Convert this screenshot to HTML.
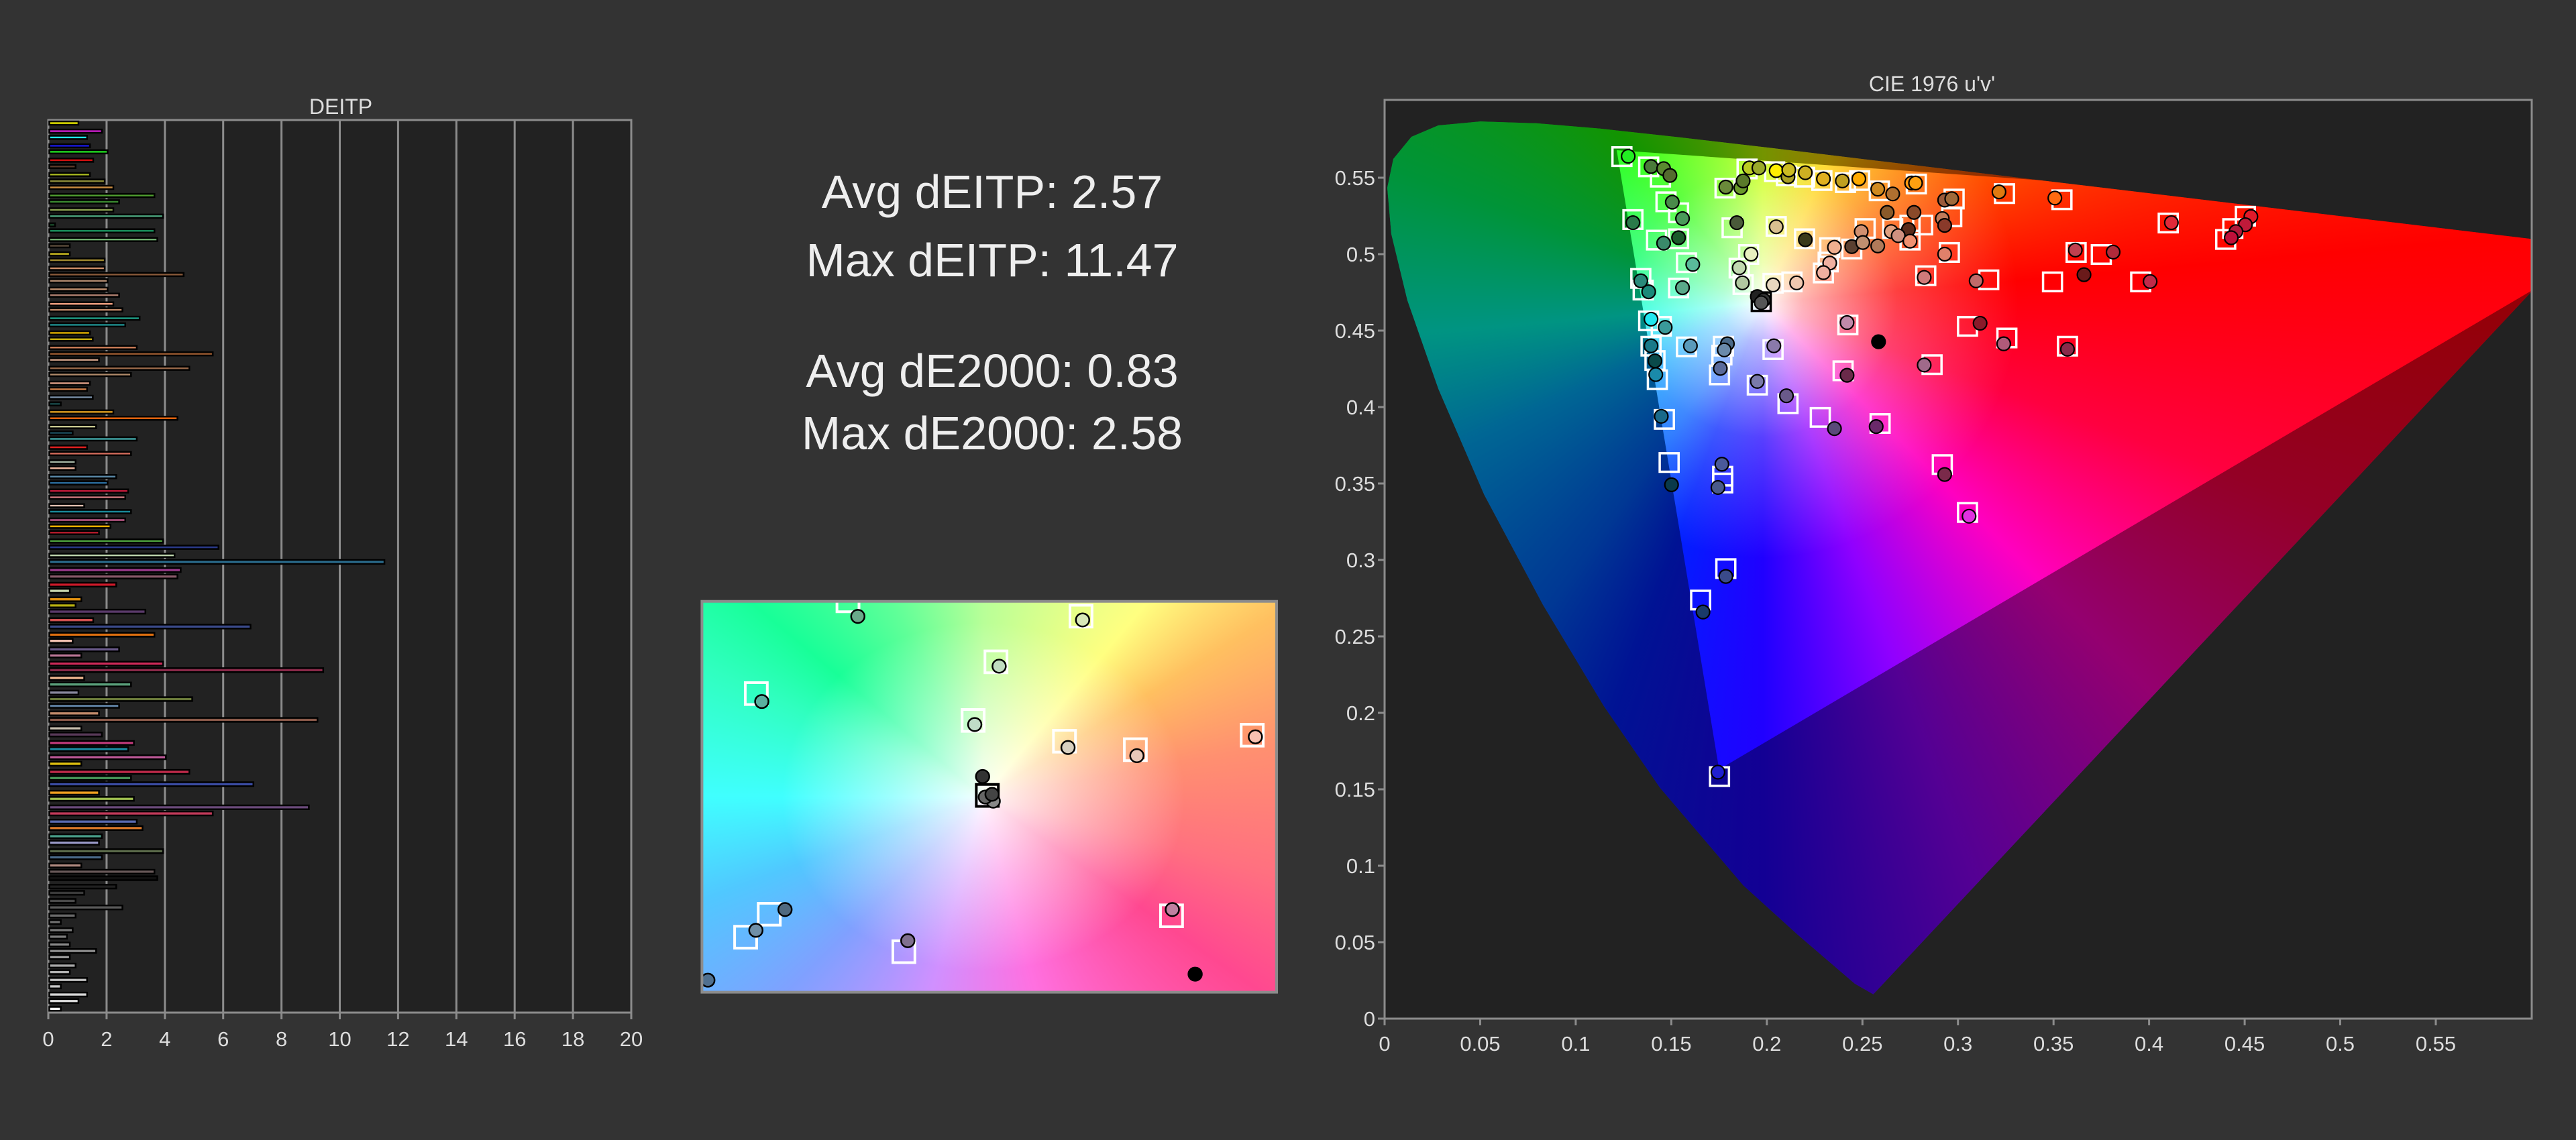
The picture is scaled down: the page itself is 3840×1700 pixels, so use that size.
<!DOCTYPE html>
<html><head><meta charset="utf-8"><style>
html,body{margin:0;padding:0;background:#333;}
body{width:3840px;height:1700px;position:relative;overflow:hidden;font-family:"Liberation Sans",sans-serif;color:#ddd;}
.abs{position:absolute;}
.txt{position:absolute;left:1179px;width:600px;text-align:center;font-size:70px;color:#eee;line-height:1;}
#cie{position:absolute;left:2064px;top:149px;width:1710px;height:1370px;background:#222;overflow:hidden;}
#locus{position:absolute;left:0;top:0;width:1800px;height:1370px;
clip-path:polygon(728.5px 1333.7px,701px 1318px,615.7px 1244.8px,534.8px 1171.4px,410.5px 1025.7px,326.8px 903.9px,235.9px 752.6px,148.4px 588.6px,80.3px 431.3px,33.9px 298.6px,10px 200px,4px 131px,13px 88px,40px 55px,80px 38px,142.7px 32.1px,225.6px 34.8px,321.1px 42.8px,436.2px 55.4px,577.2px 71.8px,747.3px 92.3px,1149.6px 140.4px,1482px 180.1px,1776px 215.2px);
background:linear-gradient(rgba(0,0,0,0.42),rgba(0,0,0,0.42)),conic-gradient(from 0deg at 564px 303px,#c8ff00 0deg,#ffd000 25deg,#ff5000 60deg,#ff0000 85deg,#ff0040 110deg,#ff00c0 135deg,#9000ff 160deg,#2000ff 180deg,#0020ff 200deg,#0060ff 215deg,#00b0ff 245deg,#00ffe0 265deg,#00ff60 290deg,#20ff00 320deg,#80ff00 345deg,#c8ff00 360deg);}
#tri{position:absolute;left:0;top:0;width:1900px;height:1370px;
clip-path:polygon(346px 75px,1880px 184px,498.6px 998.4px);
background:radial-gradient(circle at 564px 303px,rgba(255,255,255,1) 0px,rgba(255,255,255,0.7) 60px,rgba(255,255,255,0.25) 200px,rgba(255,255,255,0) 380px),conic-gradient(from 0deg at 564px 303px,#c8ff00 0deg,#ffd000 25deg,#ff5000 60deg,#ff0000 85deg,#ff0040 110deg,#ff00c0 135deg,#9000ff 160deg,#2000ff 180deg,#0020ff 200deg,#0060ff 215deg,#00b0ff 245deg,#00ffe0 265deg,#00ff60 290deg,#20ff00 320deg,#80ff00 345deg,#c8ff00 360deg);}
#grad{position:absolute;left:1046px;top:897px;width:857px;height:583px;
background:radial-gradient(ellipse 300px 260px at 49% 50%,rgba(255,255,255,0.95) 0,rgba(255,255,255,0.5) 45%,rgba(255,255,255,0) 100%),conic-gradient(from 0deg at 49% 50%,#b8ff98 0deg,#ffff80 40deg,#ffc060 58deg,#ff9070 80deg,#ff7080 105deg,#ff4890 125deg,#ff70e0 165deg,#d090ff 195deg,#80a0ff 225deg,#50c8ff 250deg,#40ffff 270deg,#30ffc0 295deg,#18ff98 310deg,#60ff98 335deg,#b8ff98 360deg);}
</style></head><body>

<!-- left bar chart frame -->
<svg class="abs" style="left:0;top:0" width="3840" height="1700">
<rect x="72" y="179" width="869" height="1331" fill="#222"/>
<g stroke="#8c8c8c" stroke-width="3">
<line x1="158.9" y1="179" x2="158.9" y2="1510"/><line x1="245.8" y1="179" x2="245.8" y2="1510"/>
<line x1="332.7" y1="179" x2="332.7" y2="1510"/><line x1="419.6" y1="179" x2="419.6" y2="1510"/>
<line x1="506.5" y1="179" x2="506.5" y2="1510"/><line x1="593.4" y1="179" x2="593.4" y2="1510"/>
<line x1="680.3" y1="179" x2="680.3" y2="1510"/><line x1="767.2" y1="179" x2="767.2" y2="1510"/>
<line x1="854.1" y1="179" x2="854.1" y2="1510"/>
</g>
<g stroke="#8c8c8c" stroke-width="3">
<line x1="72" y1="1510" x2="72" y2="1520"/><line x1="158.9" y1="1510" x2="158.9" y2="1520"/><line x1="245.8" y1="1510" x2="245.8" y2="1520"/><line x1="332.7" y1="1510" x2="332.7" y2="1520"/><line x1="419.6" y1="1510" x2="419.6" y2="1520"/><line x1="506.5" y1="1510" x2="506.5" y2="1520"/><line x1="593.4" y1="1510" x2="593.4" y2="1520"/><line x1="680.3" y1="1510" x2="680.3" y2="1520"/><line x1="767.2" y1="1510" x2="767.2" y2="1520"/><line x1="854.1" y1="1510" x2="854.1" y2="1520"/><line x1="941" y1="1510" x2="941" y2="1520"/>
</g>
<rect x="72" y="179" width="869" height="1331" fill="none" stroke="#8c8c8c" stroke-width="3"/>
<text x="508" y="170" font-size="32" fill="#ddd" text-anchor="middle" font-family="Liberation Sans">DEITP</text>
<g font-size="31" fill="#ddd" text-anchor="middle" font-family="Liberation Sans">
<text x="72" y="1560">0</text><text x="158.9" y="1560">2</text><text x="245.8" y="1560">4</text><text x="332.7" y="1560">6</text><text x="419.6" y="1560">8</text><text x="506.5" y="1560">10</text><text x="593.4" y="1560">12</text><text x="680.3" y="1560">14</text><text x="767.2" y="1560">16</text><text x="854.1" y="1560">18</text><text x="941" y="1560">20</text>
</g>
</svg>

<!-- bars top part (zoom1 coords) -->
<svg class="abs" style="left:0;top:140px" width="960" height="700" viewBox="0 0 1568 1568" preserveAspectRatio="none">
<g stroke="#000" stroke-width="2.5" vector-effect="non-scaling-stroke">
<rect vector-effect="non-scaling-stroke" x="120" y="92" width="71" height="11" fill="#f0f000"/>
<rect vector-effect="non-scaling-stroke" x="120" y="119" width="128" height="11" fill="#d020d0"/>
<rect vector-effect="non-scaling-stroke" x="120" y="140" width="92" height="11" fill="#20e8e8"/>
<rect vector-effect="non-scaling-stroke" x="120" y="168" width="99" height="11" fill="#1818e0"/>
<rect vector-effect="non-scaling-stroke" x="120" y="188" width="142" height="11" fill="#20d020"/>
<rect vector-effect="non-scaling-stroke" x="120" y="216" width="107" height="11" fill="#d01010"/>
<rect vector-effect="non-scaling-stroke" x="120" y="237" width="64" height="11" fill="#5a3a2a"/>
<rect vector-effect="non-scaling-stroke" x="120" y="264" width="99" height="11" fill="#a8b820"/>
<rect vector-effect="non-scaling-stroke" x="120" y="286" width="135" height="11" fill="#8a8a3a"/>
<rect vector-effect="non-scaling-stroke" x="120" y="307" width="156" height="11" fill="#c88a40"/>
<rect vector-effect="non-scaling-stroke" x="120" y="334" width="256" height="11" fill="#50a030"/>
<rect vector-effect="non-scaling-stroke" x="120" y="355" width="170" height="11" fill="#3a8a30"/>
<rect vector-effect="non-scaling-stroke" x="120" y="382" width="156" height="11" fill="#8aa050"/>
<rect vector-effect="non-scaling-stroke" x="120" y="403" width="277" height="11" fill="#4aa07a"/>
<rect vector-effect="non-scaling-stroke" x="120" y="432" width="14" height="11" fill="#1a4a2a"/>
<rect vector-effect="non-scaling-stroke" x="120" y="452" width="256" height="11" fill="#1a8a5a"/>
<rect vector-effect="non-scaling-stroke" x="120" y="481" width="263" height="11" fill="#70b070"/>
<rect vector-effect="non-scaling-stroke" x="120" y="502" width="50" height="11" fill="#5a4a3a"/>
<rect vector-effect="non-scaling-stroke" x="120" y="529" width="50" height="11" fill="#c8b820"/>
<rect vector-effect="non-scaling-stroke" x="120" y="550" width="135" height="11" fill="#a08a30"/>
<rect vector-effect="non-scaling-stroke" x="120" y="577" width="135" height="11" fill="#d0906a"/>
<rect vector-effect="non-scaling-stroke" x="120" y="598" width="327" height="11" fill="#8a5a3a"/>
<rect vector-effect="non-scaling-stroke" x="120" y="619" width="142" height="11" fill="#b08a70"/>
<rect vector-effect="non-scaling-stroke" x="120" y="647" width="142" height="11" fill="#c09070"/>
<rect vector-effect="non-scaling-stroke" x="120" y="667" width="170" height="11" fill="#b08070"/>
<rect vector-effect="non-scaling-stroke" x="120" y="696" width="156" height="11" fill="#f0a080"/>
<rect vector-effect="non-scaling-stroke" x="120" y="716" width="178" height="11" fill="#c08a6a"/>
<rect vector-effect="non-scaling-stroke" x="120" y="744" width="220" height="11" fill="#20a088"/>
<rect vector-effect="non-scaling-stroke" x="120" y="766" width="185" height="11" fill="#209090"/>
<rect vector-effect="non-scaling-stroke" x="120" y="793" width="99" height="11" fill="#e0b000"/>
<rect vector-effect="non-scaling-stroke" x="120" y="814" width="106" height="11" fill="#c8b010"/>
<rect vector-effect="non-scaling-stroke" x="120" y="842" width="213" height="11" fill="#d0805a"/>
<rect vector-effect="non-scaling-stroke" x="120" y="863" width="398" height="11" fill="#9a5a30"/>
<rect vector-effect="non-scaling-stroke" x="120" y="883" width="121" height="11" fill="#d0a088"/>
<rect vector-effect="non-scaling-stroke" x="120" y="911" width="341" height="11" fill="#9a6a4a"/>
<rect vector-effect="non-scaling-stroke" x="120" y="932" width="199" height="11" fill="#b08a6a"/>
<rect vector-effect="non-scaling-stroke" x="120" y="961" width="99" height="11" fill="#e0a088"/>
<rect vector-effect="non-scaling-stroke" x="120" y="981" width="92" height="11" fill="#d0804a"/>
<rect vector-effect="non-scaling-stroke" x="120" y="1008" width="106" height="11" fill="#7a90a8"/>
<rect vector-effect="non-scaling-stroke" x="120" y="1030" width="28" height="11" fill="#1a4a4a"/>
<rect vector-effect="non-scaling-stroke" x="120" y="1057" width="156" height="11" fill="#e0a020"/>
<rect vector-effect="non-scaling-stroke" x="120" y="1078" width="312" height="11" fill="#f06a10"/>
<rect vector-effect="non-scaling-stroke" x="120" y="1106" width="114" height="11" fill="#c8c890"/>
<rect vector-effect="non-scaling-stroke" x="120" y="1127" width="57" height="11" fill="#1a4a5a"/>
<rect vector-effect="non-scaling-stroke" x="120" y="1147" width="213" height="11" fill="#40a0a0"/>
<rect vector-effect="non-scaling-stroke" x="120" y="1175" width="92" height="11" fill="#e02020"/>
<rect vector-effect="non-scaling-stroke" x="120" y="1196" width="199" height="11" fill="#d06a5a"/>
<rect vector-effect="non-scaling-stroke" x="120" y="1224" width="64" height="11" fill="#a0b0a0"/>
<rect vector-effect="non-scaling-stroke" x="120" y="1245" width="64" height="11" fill="#f0b8a0"/>
<rect vector-effect="non-scaling-stroke" x="120" y="1273" width="163" height="11" fill="#5a8aa8"/>
<rect vector-effect="non-scaling-stroke" x="120" y="1294" width="142" height="11" fill="#2a6a9a"/>
<rect vector-effect="non-scaling-stroke" x="120" y="1321" width="192" height="11" fill="#c01a3a"/>
<rect vector-effect="non-scaling-stroke" x="120" y="1342" width="185" height="11" fill="#d07a80"/>
<rect vector-effect="non-scaling-stroke" x="120" y="1370" width="85" height="11" fill="#e0c0b0"/>
<rect vector-effect="non-scaling-stroke" x="120" y="1390" width="199" height="11" fill="#1a8a9a"/>
<rect vector-effect="non-scaling-stroke" x="120" y="1418" width="185" height="11" fill="#c05a8a"/>
<rect vector-effect="non-scaling-stroke" x="120" y="1439" width="149" height="11" fill="#f0b000"/>
<rect vector-effect="non-scaling-stroke" x="120" y="1460" width="121" height="11" fill="#b01a2a"/>
<rect vector-effect="non-scaling-stroke" x="120" y="1488" width="277" height="11" fill="#4a9a3a"/>
<rect vector-effect="non-scaling-stroke" x="120" y="1509" width="412" height="11" fill="#2a3a8a"/>
<rect vector-effect="non-scaling-stroke" x="120" y="1536" width="305" height="11" fill="#c0d8b0"/>
</g>
</svg>

<!-- bars bottom part (zoom3 coords) -->
<svg class="abs" style="left:0;top:820px" width="960" height="760" viewBox="0 0 1568 1568" preserveAspectRatio="none">
<g stroke="#000" stroke-width="2.5">
<rect vector-effect="non-scaling-stroke" x="120" y="31" width="816" height="12" fill="#2a6a8a"/>
<rect vector-effect="non-scaling-stroke" x="120" y="56" width="320" height="12" fill="#9a3a8a"/>
<rect vector-effect="non-scaling-stroke" x="120" y="76" width="312" height="12" fill="#8a5a6a"/>
<rect vector-effect="non-scaling-stroke" x="120" y="101" width="163" height="12" fill="#d01a2a"/>
<rect vector-effect="non-scaling-stroke" x="120" y="120" width="50" height="12" fill="#c8d8b0"/>
<rect vector-effect="non-scaling-stroke" x="120" y="146" width="78" height="12" fill="#e09010"/>
<rect vector-effect="non-scaling-stroke" x="120" y="165" width="64" height="12" fill="#b8b010"/>
<rect vector-effect="non-scaling-stroke" x="120" y="184" width="234" height="12" fill="#5a3a6a"/>
<rect vector-effect="non-scaling-stroke" x="120" y="210" width="107" height="12" fill="#d05050"/>
<rect vector-effect="non-scaling-stroke" x="120" y="230" width="490" height="12" fill="#3a4a8a"/>
<rect vector-effect="non-scaling-stroke" x="120" y="255" width="256" height="12" fill="#e07010"/>
<rect vector-effect="non-scaling-stroke" x="120" y="274" width="57" height="12" fill="#f0c0b0"/>
<rect vector-effect="non-scaling-stroke" x="120" y="300" width="170" height="12" fill="#6a5a8a"/>
<rect vector-effect="non-scaling-stroke" x="120" y="319" width="78" height="12" fill="#c07a9a"/>
<rect vector-effect="non-scaling-stroke" x="120" y="344" width="277" height="12" fill="#d02a5a"/>
<rect vector-effect="non-scaling-stroke" x="120" y="364" width="667" height="12" fill="#8a2a4a"/>
<rect vector-effect="non-scaling-stroke" x="120" y="388" width="85" height="12" fill="#f0b890"/>
<rect vector-effect="non-scaling-stroke" x="120" y="408" width="199" height="12" fill="#5aa07a"/>
<rect vector-effect="non-scaling-stroke" x="120" y="433" width="71" height="12" fill="#8a8aa0"/>
<rect vector-effect="non-scaling-stroke" x="120" y="453" width="348" height="12" fill="#6a7a3a"/>
<rect vector-effect="non-scaling-stroke" x="120" y="474" width="170" height="12" fill="#5a7a9a"/>
<rect vector-effect="non-scaling-stroke" x="120" y="497" width="121" height="12" fill="#c08a6a"/>
<rect vector-effect="non-scaling-stroke" x="120" y="517" width="653" height="12" fill="#8a5a4a"/>
<rect vector-effect="non-scaling-stroke" x="120" y="543" width="78" height="12" fill="#c8c0b0"/>
<rect vector-effect="non-scaling-stroke" x="120" y="562" width="128" height="12" fill="#5a3a5a"/>
<rect vector-effect="non-scaling-stroke" x="120" y="588" width="206" height="12" fill="#c03a7a"/>
<rect vector-effect="non-scaling-stroke" x="120" y="607" width="192" height="12" fill="#1a8aa0"/>
<rect vector-effect="non-scaling-stroke" x="120" y="632" width="284" height="12" fill="#c05a9a"/>
<rect vector-effect="non-scaling-stroke" x="120" y="652" width="78" height="12" fill="#e0c010"/>
<rect vector-effect="non-scaling-stroke" x="120" y="677" width="341" height="12" fill="#c02a4a"/>
<rect vector-effect="non-scaling-stroke" x="120" y="696" width="199" height="12" fill="#4a9a5a"/>
<rect vector-effect="non-scaling-stroke" x="120" y="715" width="497" height="12" fill="#3a4aa0"/>
<rect vector-effect="non-scaling-stroke" x="120" y="741" width="121" height="12" fill="#f0a020"/>
<rect vector-effect="non-scaling-stroke" x="120" y="760" width="206" height="12" fill="#a0c050"/>
<rect vector-effect="non-scaling-stroke" x="120" y="786" width="632" height="12" fill="#6a4a7a"/>
<rect vector-effect="non-scaling-stroke" x="120" y="805" width="398" height="12" fill="#c03a5a"/>
<rect vector-effect="non-scaling-stroke" x="120" y="830" width="213" height="12" fill="#5a6ab0"/>
<rect vector-effect="non-scaling-stroke" x="120" y="850" width="227" height="12" fill="#e07a2a"/>
<rect vector-effect="non-scaling-stroke" x="120" y="875" width="128" height="12" fill="#4aa08a"/>
<rect vector-effect="non-scaling-stroke" x="120" y="895" width="121" height="12" fill="#9a9ac8"/>
<rect vector-effect="non-scaling-stroke" x="120" y="921" width="277" height="12" fill="#5a6a4a"/>
<rect vector-effect="non-scaling-stroke" x="120" y="940" width="128" height="12" fill="#4a6a8a"/>
<rect vector-effect="non-scaling-stroke" x="120" y="965" width="78" height="12" fill="#b08a80"/>
<rect vector-effect="non-scaling-stroke" x="120" y="984" width="256" height="12" fill="#6a5a5a"/>
<rect vector-effect="non-scaling-stroke" x="120" y="1004" width="263" height="12" fill="#101010"/>
<rect vector-effect="non-scaling-stroke" x="120" y="1030" width="163" height="12" fill="#202020"/>
<rect vector-effect="non-scaling-stroke" x="120" y="1049" width="85" height="12" fill="#3a3a3a"/>
<rect vector-effect="non-scaling-stroke" x="120" y="1074" width="64" height="12" fill="#4a4a4a"/>
<rect vector-effect="non-scaling-stroke" x="120" y="1094" width="178" height="12" fill="#5a5a5a"/>
<rect vector-effect="non-scaling-stroke" x="120" y="1119" width="64" height="12" fill="#6a6a6a"/>
<rect vector-effect="non-scaling-stroke" x="120" y="1139" width="28" height="12" fill="#707070"/>
<rect vector-effect="non-scaling-stroke" x="120" y="1164" width="57" height="12" fill="#7a7a7a"/>
<rect vector-effect="non-scaling-stroke" x="120" y="1184" width="43" height="12" fill="#808080"/>
<rect vector-effect="non-scaling-stroke" x="120" y="1208" width="50" height="12" fill="#8a8a8a"/>
<rect vector-effect="non-scaling-stroke" x="120" y="1228" width="114" height="12" fill="#909090"/>
<rect vector-effect="non-scaling-stroke" x="120" y="1247" width="50" height="12" fill="#9a9a9a"/>
<rect vector-effect="non-scaling-stroke" x="120" y="1273" width="64" height="12" fill="#a8a8a8"/>
<rect vector-effect="non-scaling-stroke" x="120" y="1293" width="50" height="12" fill="#b0b0b0"/>
<rect vector-effect="non-scaling-stroke" x="120" y="1317" width="92" height="12" fill="#c0c0c0"/>
<rect vector-effect="non-scaling-stroke" x="120" y="1337" width="28" height="12" fill="#c8c8c8"/>
<rect vector-effect="non-scaling-stroke" x="120" y="1362" width="92" height="12" fill="#d8d8d8"/>
<rect vector-effect="non-scaling-stroke" x="120" y="1382" width="71" height="12" fill="#e0e0e0"/>
<rect vector-effect="non-scaling-stroke" x="120" y="1406" width="28" height="12" fill="#fafafa"/>
</g>
</svg>

<!-- stats text -->
<div class="txt" style="top:251px">Avg dEITP: 2.57</div>
<div class="txt" style="top:353px">Max dEITP: 11.47</div>
<div class="txt" style="top:518px">Avg dE2000: 0.83</div>
<div class="txt" style="top:611px">Max dE2000: 2.58</div>

<!-- middle gradient box -->
<div id="grad"></div>
<svg class="abs" style="left:1020px;top:860px" width="920" height="640" viewBox="0 0 1568 1568" preserveAspectRatio="none">
<defs><clipPath id="gc"><rect x="45" y="90" width="1460" height="1428"/></clipPath></defs>
<g clip-path="url(#gc)">
<g fill="none" stroke="#fff" stroke-width="4">
<rect vector-effect="non-scaling-stroke" x="388" y="48" width="56" height="80"/>
<rect vector-effect="non-scaling-stroke" x="980" y="104" width="56" height="80"/>
<rect vector-effect="non-scaling-stroke" x="764" y="271" width="56" height="80"/>
<rect vector-effect="non-scaling-stroke" x="155" y="387" width="56" height="80"/>
<rect vector-effect="non-scaling-stroke" x="706" y="485" width="56" height="80"/>
<rect vector-effect="non-scaling-stroke" x="938" y="561" width="56" height="80"/>
<rect vector-effect="non-scaling-stroke" x="1118" y="592" width="56" height="80"/>
<rect vector-effect="non-scaling-stroke" x="1415" y="539" width="56" height="80"/>
<rect vector-effect="non-scaling-stroke" x="188" y="1193" width="56" height="80"/>
<rect vector-effect="non-scaling-stroke" x="128" y="1277" width="56" height="80"/>
<rect vector-effect="non-scaling-stroke" x="530" y="1330" width="56" height="80"/>
<rect vector-effect="non-scaling-stroke" x="1210" y="1199" width="56" height="80"/>
<rect vector-effect="non-scaling-stroke" x="742" y="759" width="56" height="80" stroke="#000"/>
</g>
<g stroke="#000" stroke-width="2.5">
<ellipse vector-effect="non-scaling-stroke" cx="441" cy="145" rx="17" ry="24" fill="#6aaa8a"/>
<ellipse vector-effect="non-scaling-stroke" cx="1012" cy="158" rx="17" ry="24" fill="#d8e8b8"/>
<ellipse vector-effect="non-scaling-stroke" cx="800" cy="327" rx="17" ry="24" fill="#c0dcc0"/>
<ellipse vector-effect="non-scaling-stroke" cx="197" cy="456" rx="17" ry="24" fill="#5ab0a0"/>
<ellipse vector-effect="non-scaling-stroke" cx="738" cy="540" rx="17" ry="24" fill="#c0dcc8"/>
<ellipse vector-effect="non-scaling-stroke" cx="975" cy="624" rx="17" ry="24" fill="#d8d0c0"/>
<ellipse vector-effect="non-scaling-stroke" cx="1150" cy="654" rx="17" ry="24" fill="#e8c8b8"/>
<ellipse vector-effect="non-scaling-stroke" cx="1451" cy="585" rx="17" ry="24" fill="#f8c0b0"/>
<ellipse vector-effect="non-scaling-stroke" cx="758" cy="730" rx="17" ry="24" fill="#333"/>
<ellipse vector-effect="non-scaling-stroke" cx="785" cy="820" rx="17" ry="24" fill="#888"/>
<ellipse vector-effect="non-scaling-stroke" cx="765" cy="805" rx="17" ry="24" fill="#666"/>
<ellipse vector-effect="non-scaling-stroke" cx="782" cy="795" rx="17" ry="24" fill="#444"/>
<ellipse vector-effect="non-scaling-stroke" cx="256" cy="1216" rx="17" ry="24" fill="#506a80"/>
<ellipse vector-effect="non-scaling-stroke" cx="182" cy="1292" rx="17" ry="24" fill="#7090a8"/>
<ellipse vector-effect="non-scaling-stroke" cx="568" cy="1330" rx="17" ry="24" fill="#807090"/>
<ellipse vector-effect="non-scaling-stroke" cx="1240" cy="1216" rx="17" ry="24" fill="#c080a0"/>
<ellipse vector-effect="non-scaling-stroke" cx="1298" cy="1452" rx="17" ry="24" fill="#000"/>
<ellipse vector-effect="non-scaling-stroke" cx="60" cy="1474" rx="17" ry="24" fill="#507090"/>
</g>
</g>
<rect x="45" y="90" width="1460" height="1428" fill="none" stroke="#8c8c8c" stroke-width="4" vector-effect="non-scaling-stroke"/>
</svg>

<!-- CIE chart -->
<div id="cie"><div id="locus"><div id="tri"></div></div></div>
<svg class="abs" style="left:0;top:0" width="3840" height="1700">
<rect x="2064" y="149" width="1710" height="1370" fill="none" stroke="#8c8c8c" stroke-width="3"/>
<text x="2880" y="136" font-size="32" fill="#ddd" text-anchor="middle" font-family="Liberation Sans">CIE 1976 u'v'</text>
<g stroke="#8c8c8c" stroke-width="3">
<line x1="2064" y1="1519" x2="2064" y2="1529"/><line x1="2206.5" y1="1519" x2="2206.5" y2="1529"/><line x1="2348.9" y1="1519" x2="2348.9" y2="1529"/><line x1="2491.4" y1="1519" x2="2491.4" y2="1529"/><line x1="2633.8" y1="1519" x2="2633.8" y2="1529"/><line x1="2776.3" y1="1519" x2="2776.3" y2="1529"/><line x1="2918.7" y1="1519" x2="2918.7" y2="1529"/><line x1="3061.2" y1="1519" x2="3061.2" y2="1529"/><line x1="3203.6" y1="1519" x2="3203.6" y2="1529"/><line x1="3346.1" y1="1519" x2="3346.1" y2="1529"/><line x1="3488.5" y1="1519" x2="3488.5" y2="1529"/><line x1="3631" y1="1519" x2="3631" y2="1529"/>
<line x1="2054" y1="1519" x2="2064" y2="1519"/><line x1="2054" y1="1405" x2="2064" y2="1405"/><line x1="2054" y1="1291" x2="2064" y2="1291"/><line x1="2054" y1="1177" x2="2064" y2="1177"/><line x1="2054" y1="1063" x2="2064" y2="1063"/><line x1="2054" y1="949" x2="2064" y2="949"/><line x1="2054" y1="835" x2="2064" y2="835"/><line x1="2054" y1="721" x2="2064" y2="721"/><line x1="2054" y1="607" x2="2064" y2="607"/><line x1="2054" y1="493" x2="2064" y2="493"/><line x1="2054" y1="379" x2="2064" y2="379"/><line x1="2054" y1="265" x2="2064" y2="265"/>
</g>
<g font-size="31" fill="#ddd" text-anchor="middle" font-family="Liberation Sans">
<text x="2064" y="1567">0</text><text x="2206.5" y="1567">0.05</text><text x="2348.9" y="1567">0.1</text><text x="2491.4" y="1567">0.15</text><text x="2633.8" y="1567">0.2</text><text x="2776.3" y="1567">0.25</text><text x="2918.7" y="1567">0.3</text><text x="3061.2" y="1567">0.35</text><text x="3203.6" y="1567">0.4</text><text x="3346.1" y="1567">0.45</text><text x="3488.5" y="1567">0.5</text><text x="3631" y="1567">0.55</text>
</g>
<g font-size="31" fill="#ddd" text-anchor="end" font-family="Liberation Sans">
<text x="2050" y="1530">0</text><text x="2050" y="1416">0.05</text><text x="2050" y="1302">0.1</text><text x="2050" y="1188">0.15</text><text x="2050" y="1074">0.2</text><text x="2050" y="960">0.25</text><text x="2050" y="846">0.3</text><text x="2050" y="732">0.35</text><text x="2050" y="618">0.4</text><text x="2050" y="504">0.45</text><text x="2050" y="390">0.5</text><text x="2050" y="276">0.55</text>
</g>
</svg>
<svg class="abs" style="left:2000px;top:80px" width="1840" height="1600" viewBox="0 0 1568 1568" preserveAspectRatio="none">
<g fill="none" stroke="#fff" stroke-width="3.5">
<rect vector-effect="non-scaling-stroke" x="344" y="137" width="24" height="27"/><rect vector-effect="non-scaling-stroke" x="378" y="152" width="24" height="27"/><rect vector-effect="non-scaling-stroke" x="393" y="167" width="24" height="27"/><rect vector-effect="non-scaling-stroke" x="358" y="229" width="24" height="27"/><rect vector-effect="non-scaling-stroke" x="400" y="203" width="24" height="27"/><rect vector-effect="non-scaling-stroke" x="388" y="259" width="24" height="27"/><rect vector-effect="non-scaling-stroke" x="416" y="257" width="24" height="27"/><rect vector-effect="non-scaling-stroke" x="416" y="219" width="24" height="27"/><rect vector-effect="non-scaling-stroke" x="368" y="315" width="24" height="27"/><rect vector-effect="non-scaling-stroke" x="371" y="332" width="24" height="27"/><rect vector-effect="non-scaling-stroke" x="426" y="292" width="24" height="27"/><rect vector-effect="non-scaling-stroke" x="416" y="329" width="24" height="27"/><rect vector-effect="non-scaling-stroke" x="378" y="377" width="24" height="27"/><rect vector-effect="non-scaling-stroke" x="394" y="385" width="24" height="27"/><rect vector-effect="non-scaling-stroke" x="381" y="414" width="24" height="27"/><rect vector-effect="non-scaling-stroke" x="386" y="435" width="24" height="27"/><rect vector-effect="non-scaling-stroke" x="389" y="463" width="24" height="27"/><rect vector-effect="non-scaling-stroke" x="426" y="415" width="24" height="27"/><rect vector-effect="non-scaling-stroke" x="473" y="414" width="24" height="27"/><rect vector-effect="non-scaling-stroke" x="471" y="427" width="24" height="27"/><rect vector-effect="non-scaling-stroke" x="468" y="456" width="24" height="27"/><rect vector-effect="non-scaling-stroke" x="536" y="419" width="24" height="27"/><rect vector-effect="non-scaling-stroke" x="516" y="471" width="24" height="27"/><rect vector-effect="non-scaling-stroke" x="555" y="498" width="24" height="27"/><rect vector-effect="non-scaling-stroke" x="596" y="518" width="24" height="27"/><rect vector-effect="non-scaling-stroke" x="672" y="527" width="24" height="27"/><rect vector-effect="non-scaling-stroke" x="631" y="383" width="24" height="27"/><rect vector-effect="non-scaling-stroke" x="625" y="450" width="24" height="27"/><rect vector-effect="non-scaling-stroke" x="738" y="441" width="24" height="27"/><rect vector-effect="non-scaling-stroke" x="783" y="385" width="24" height="27"/><rect vector-effect="non-scaling-stroke" x="833" y="402" width="24" height="27"/><rect vector-effect="non-scaling-stroke" x="910" y="414" width="24" height="27"/><rect vector-effect="non-scaling-stroke" x="751" y="587" width="24" height="27"/><rect vector-effect="non-scaling-stroke" x="783" y="657" width="24" height="27"/><rect vector-effect="non-scaling-stroke" x="404" y="584" width="24" height="27"/><rect vector-effect="non-scaling-stroke" x="472" y="604" width="24" height="27"/><rect vector-effect="non-scaling-stroke" x="472" y="614" width="24" height="27"/><rect vector-effect="non-scaling-stroke" x="476" y="739" width="24" height="27"/><rect vector-effect="non-scaling-stroke" x="444" y="785" width="24" height="27"/><rect vector-effect="non-scaling-stroke" x="468" y="1043" width="24" height="27"/><rect vector-effect="non-scaling-stroke" x="398" y="521" width="24" height="27"/><rect vector-effect="non-scaling-stroke" x="475" y="183" width="24" height="27"/><rect vector-effect="non-scaling-stroke" x="503" y="155" width="24" height="27"/><rect vector-effect="non-scaling-stroke" x="538" y="159" width="24" height="27"/><rect vector-effect="non-scaling-stroke" x="553" y="165" width="24" height="27"/><rect vector-effect="non-scaling-stroke" x="576" y="167" width="24" height="27"/><rect vector-effect="non-scaling-stroke" x="598" y="172" width="24" height="27"/><rect vector-effect="non-scaling-stroke" x="628" y="175" width="24" height="27"/><rect vector-effect="non-scaling-stroke" x="646" y="172" width="24" height="27"/><rect vector-effect="non-scaling-stroke" x="671" y="187" width="24" height="27"/><rect vector-effect="non-scaling-stroke" x="718" y="177" width="24" height="27"/><rect vector-effect="non-scaling-stroke" x="766" y="199" width="24" height="27"/><rect vector-effect="non-scaling-stroke" x="763" y="225" width="24" height="27"/><rect vector-effect="non-scaling-stroke" x="830" y="191" width="24" height="27"/><rect vector-effect="non-scaling-stroke" x="903" y="200" width="24" height="27"/><rect vector-effect="non-scaling-stroke" x="1038" y="234" width="24" height="27"/><rect vector-effect="non-scaling-stroke" x="1136" y="224" width="24" height="27"/><rect vector-effect="non-scaling-stroke" x="1120" y="242" width="24" height="27"/><rect vector-effect="non-scaling-stroke" x="1111" y="258" width="24" height="27"/><rect vector-effect="non-scaling-stroke" x="576" y="257" width="24" height="27"/><rect vector-effect="non-scaling-stroke" x="540" y="239" width="24" height="27"/><rect vector-effect="non-scaling-stroke" x="484" y="241" width="24" height="27"/><rect vector-effect="non-scaling-stroke" x="505" y="280" width="24" height="27"/><rect vector-effect="non-scaling-stroke" x="493" y="300" width="24" height="27"/><rect vector-effect="non-scaling-stroke" x="498" y="324" width="24" height="27"/><rect vector-effect="non-scaling-stroke" x="536" y="322" width="24" height="27"/><rect vector-effect="non-scaling-stroke" x="560" y="320" width="24" height="27"/><rect vector-effect="non-scaling-stroke" x="608" y="270" width="24" height="27"/><rect vector-effect="non-scaling-stroke" x="600" y="307" width="24" height="27"/><rect vector-effect="non-scaling-stroke" x="606" y="291" width="24" height="27"/><rect vector-effect="non-scaling-stroke" x="636" y="272" width="24" height="27"/><rect vector-effect="non-scaling-stroke" x="653" y="242" width="24" height="27"/><rect vector-effect="non-scaling-stroke" x="688" y="242" width="24" height="27"/><rect vector-effect="non-scaling-stroke" x="710" y="237" width="24" height="27"/><rect vector-effect="non-scaling-stroke" x="726" y="237" width="24" height="27"/><rect vector-effect="non-scaling-stroke" x="710" y="259" width="24" height="27"/><rect vector-effect="non-scaling-stroke" x="760" y="277" width="24" height="27"/><rect vector-effect="non-scaling-stroke" x="730" y="311" width="24" height="27"/><rect vector-effect="non-scaling-stroke" x="810" y="317" width="24" height="27"/><rect vector-effect="non-scaling-stroke" x="891" y="320" width="24" height="27"/><rect vector-effect="non-scaling-stroke" x="921" y="277" width="24" height="27"/><rect vector-effect="non-scaling-stroke" x="953" y="280" width="24" height="27"/><rect vector-effect="non-scaling-stroke" x="1003" y="320" width="24" height="27"/>
<rect vector-effect="non-scaling-stroke" x="521" y="349" width="24" height="27" stroke="#000"/>
</g>
<g stroke="#000" stroke-width="2.2">
<ellipse vector-effect="non-scaling-stroke" cx="364" cy="150" rx="8.5" ry="9.8" fill="#22ee22"/><ellipse vector-effect="non-scaling-stroke" cx="393" cy="165" rx="8.5" ry="9.8" fill="#4a7a3a"/><ellipse vector-effect="non-scaling-stroke" cx="409" cy="168" rx="8.5" ry="9.8" fill="#5a8a30"/><ellipse vector-effect="non-scaling-stroke" cx="417" cy="178" rx="8.5" ry="9.8" fill="#556b2f"/><ellipse vector-effect="non-scaling-stroke" cx="420" cy="217" rx="8.5" ry="9.8" fill="#4a8a4a"/><ellipse vector-effect="non-scaling-stroke" cx="433" cy="241" rx="8.5" ry="9.8" fill="#4a9a5a"/><ellipse vector-effect="non-scaling-stroke" cx="370" cy="247" rx="8.5" ry="9.8" fill="#2a7a4a"/><ellipse vector-effect="non-scaling-stroke" cx="409" cy="277" rx="8.5" ry="9.8" fill="#3a8a6a"/><ellipse vector-effect="non-scaling-stroke" cx="428" cy="269" rx="8.5" ry="9.8" fill="#1a5a2a"/><ellipse vector-effect="non-scaling-stroke" cx="380" cy="332" rx="8.5" ry="9.8" fill="#2a8a7a"/><ellipse vector-effect="non-scaling-stroke" cx="390" cy="348" rx="8.5" ry="9.8" fill="#1a8a7a"/><ellipse vector-effect="non-scaling-stroke" cx="446" cy="308" rx="8.5" ry="9.8" fill="#5aba9a"/><ellipse vector-effect="non-scaling-stroke" cx="433" cy="342" rx="8.5" ry="9.8" fill="#5aaa8a"/><ellipse vector-effect="non-scaling-stroke" cx="393" cy="388" rx="8.5" ry="9.8" fill="#22e8f0"/><ellipse vector-effect="non-scaling-stroke" cx="411" cy="400" rx="8.5" ry="9.8" fill="#3a9a9a"/><ellipse vector-effect="non-scaling-stroke" cx="393" cy="427" rx="8.5" ry="9.8" fill="#1a7a8a"/><ellipse vector-effect="non-scaling-stroke" cx="398" cy="449" rx="8.5" ry="9.8" fill="#0a4a4a"/><ellipse vector-effect="non-scaling-stroke" cx="399" cy="469" rx="8.5" ry="9.8" fill="#1a8aaa"/><ellipse vector-effect="non-scaling-stroke" cx="443" cy="427" rx="8.5" ry="9.8" fill="#5a9aba"/><ellipse vector-effect="non-scaling-stroke" cx="490" cy="424" rx="8.5" ry="9.8" fill="#4a6a8a"/><ellipse vector-effect="non-scaling-stroke" cx="486" cy="433" rx="8.5" ry="9.8" fill="#6a8aaa"/><ellipse vector-effect="non-scaling-stroke" cx="481" cy="460" rx="8.5" ry="9.8" fill="#5a6a9a"/><ellipse vector-effect="non-scaling-stroke" cx="549" cy="427" rx="8.5" ry="9.8" fill="#8a7aaa"/><ellipse vector-effect="non-scaling-stroke" cx="528" cy="479" rx="8.5" ry="9.8" fill="#7a7aaa"/><ellipse vector-effect="non-scaling-stroke" cx="565" cy="500" rx="8.5" ry="9.8" fill="#6a5a8a"/><ellipse vector-effect="non-scaling-stroke" cx="626" cy="548" rx="8.5" ry="9.8" fill="#5a4a7a"/><ellipse vector-effect="non-scaling-stroke" cx="679" cy="545" rx="8.5" ry="9.8" fill="#6a2a6a"/><ellipse vector-effect="non-scaling-stroke" cx="642" cy="393" rx="8.5" ry="9.8" fill="#c08aaa"/><ellipse vector-effect="non-scaling-stroke" cx="642" cy="470" rx="8.5" ry="9.8" fill="#6a2a4a"/><ellipse vector-effect="non-scaling-stroke" cx="740" cy="455" rx="8.5" ry="9.8" fill="#a06a8a"/><ellipse vector-effect="non-scaling-stroke" cx="811" cy="394" rx="8.5" ry="9.8" fill="#8a1a2a"/><ellipse vector-effect="non-scaling-stroke" cx="841" cy="424" rx="8.5" ry="9.8" fill="#b05a7a"/><ellipse vector-effect="non-scaling-stroke" cx="922" cy="432" rx="8.5" ry="9.8" fill="#8a2a4a"/><ellipse vector-effect="non-scaling-stroke" cx="682" cy="421" rx="8.5" ry="9.8" fill="#000"/><ellipse vector-effect="non-scaling-stroke" cx="766" cy="615" rx="8.5" ry="9.8" fill="#7a2a4a"/><ellipse vector-effect="non-scaling-stroke" cx="797" cy="676" rx="8.5" ry="9.8" fill="#e030e0"/><ellipse vector-effect="non-scaling-stroke" cx="406" cy="530" rx="8.5" ry="9.8" fill="#1a6a8a"/><ellipse vector-effect="non-scaling-stroke" cx="419" cy="630" rx="8.5" ry="9.8" fill="#0a3a4a"/><ellipse vector-effect="non-scaling-stroke" cx="483" cy="600" rx="8.5" ry="9.8" fill="#4a5a9a"/><ellipse vector-effect="non-scaling-stroke" cx="478" cy="634" rx="8.5" ry="9.8" fill="#4a5a8a"/><ellipse vector-effect="non-scaling-stroke" cx="488" cy="764" rx="8.5" ry="9.8" fill="#3a4a8a"/><ellipse vector-effect="non-scaling-stroke" cx="459" cy="816" rx="8.5" ry="9.8" fill="#1a3a6a"/><ellipse vector-effect="non-scaling-stroke" cx="478" cy="1050" rx="8.5" ry="9.8" fill="#2020d0"/>
<ellipse vector-effect="non-scaling-stroke" cx="488" cy="195" rx="8.5" ry="9.8" fill="#6a8a3a"/><ellipse vector-effect="non-scaling-stroke" cx="502" cy="247" rx="8.5" ry="9.8" fill="#4a5a3a"/><ellipse vector-effect="non-scaling-stroke" cx="507" cy="196" rx="8.5" ry="9.8" fill="#6a9a2a"/><ellipse vector-effect="non-scaling-stroke" cx="510" cy="186" rx="8.5" ry="9.8" fill="#5a7a2a"/><ellipse vector-effect="non-scaling-stroke" cx="518" cy="167" rx="8.5" ry="9.8" fill="#bbcc22"/><ellipse vector-effect="non-scaling-stroke" cx="530" cy="167" rx="8.5" ry="9.8" fill="#9aaa2a"/><ellipse vector-effect="non-scaling-stroke" cx="552" cy="171" rx="8.5" ry="9.8" fill="#ffee00"/><ellipse vector-effect="non-scaling-stroke" cx="567" cy="180" rx="8.5" ry="9.8" fill="#aaa022"/><ellipse vector-effect="non-scaling-stroke" cx="568" cy="170" rx="8.5" ry="9.8" fill="#ccbb22"/><ellipse vector-effect="non-scaling-stroke" cx="589" cy="174" rx="8.5" ry="9.8" fill="#ccb022"/><ellipse vector-effect="non-scaling-stroke" cx="612" cy="183" rx="8.5" ry="9.8" fill="#e0b020"/><ellipse vector-effect="non-scaling-stroke" cx="636" cy="186" rx="8.5" ry="9.8" fill="#c0a020"/><ellipse vector-effect="non-scaling-stroke" cx="657" cy="183" rx="8.5" ry="9.8" fill="#ffaa00"/><ellipse vector-effect="non-scaling-stroke" cx="681" cy="198" rx="8.5" ry="9.8" fill="#d08a20"/><ellipse vector-effect="non-scaling-stroke" cx="700" cy="205" rx="8.5" ry="9.8" fill="#b07030"/><ellipse vector-effect="non-scaling-stroke" cx="724" cy="189" rx="8.5" ry="9.8" fill="#ff9910"/><ellipse vector-effect="non-scaling-stroke" cx="729" cy="189" rx="8.5" ry="9.8" fill="#ffa010"/><ellipse vector-effect="non-scaling-stroke" cx="693" cy="232" rx="8.5" ry="9.8" fill="#8a5a2a"/><ellipse vector-effect="non-scaling-stroke" cx="727" cy="232" rx="8.5" ry="9.8" fill="#8a4a2a"/><ellipse vector-effect="non-scaling-stroke" cx="720" cy="257" rx="8.5" ry="9.8" fill="#5a2a1a"/><ellipse vector-effect="non-scaling-stroke" cx="766" cy="214" rx="8.5" ry="9.8" fill="#9a5a3a"/><ellipse vector-effect="non-scaling-stroke" cx="775" cy="212" rx="8.5" ry="9.8" fill="#a06a3a"/><ellipse vector-effect="non-scaling-stroke" cx="763" cy="241" rx="8.5" ry="9.8" fill="#c07a5a"/><ellipse vector-effect="non-scaling-stroke" cx="766" cy="251" rx="8.5" ry="9.8" fill="#8a3a2a"/><ellipse vector-effect="non-scaling-stroke" cx="835" cy="202" rx="8.5" ry="9.8" fill="#e07a10"/><ellipse vector-effect="non-scaling-stroke" cx="906" cy="211" rx="8.5" ry="9.8" fill="#ff6a10"/><ellipse vector-effect="non-scaling-stroke" cx="589" cy="272" rx="8.5" ry="9.8" fill="#3a3a1a"/><ellipse vector-effect="non-scaling-stroke" cx="552" cy="253" rx="8.5" ry="9.8" fill="#d8c090"/><ellipse vector-effect="non-scaling-stroke" cx="520" cy="293" rx="8.5" ry="9.8" fill="#e8f0c0"/><ellipse vector-effect="non-scaling-stroke" cx="505" cy="313" rx="8.5" ry="9.8" fill="#c0d8b0"/><ellipse vector-effect="non-scaling-stroke" cx="509" cy="335" rx="8.5" ry="9.8" fill="#b0c8a0"/><ellipse vector-effect="non-scaling-stroke" cx="548" cy="338" rx="8.5" ry="9.8" fill="#e8d8c0"/><ellipse vector-effect="non-scaling-stroke" cx="578" cy="335" rx="8.5" ry="9.8" fill="#f0c8b0"/><ellipse vector-effect="non-scaling-stroke" cx="626" cy="283" rx="8.5" ry="9.8" fill="#f0b090"/><ellipse vector-effect="non-scaling-stroke" cx="620" cy="306" rx="8.5" ry="9.8" fill="#f0b0a0"/><ellipse vector-effect="non-scaling-stroke" cx="612" cy="320" rx="8.5" ry="9.8" fill="#f0b0a0"/><ellipse vector-effect="non-scaling-stroke" cx="648" cy="282" rx="8.5" ry="9.8" fill="#5a4030"/><ellipse vector-effect="non-scaling-stroke" cx="660" cy="260" rx="8.5" ry="9.8" fill="#d09070"/><ellipse vector-effect="non-scaling-stroke" cx="662" cy="276" rx="8.5" ry="9.8" fill="#c09070"/><ellipse vector-effect="non-scaling-stroke" cx="681" cy="281" rx="8.5" ry="9.8" fill="#b07a5a"/><ellipse vector-effect="non-scaling-stroke" cx="698" cy="260" rx="8.5" ry="9.8" fill="#e0a080"/><ellipse vector-effect="non-scaling-stroke" cx="707" cy="266" rx="8.5" ry="9.8" fill="#d09080"/><ellipse vector-effect="non-scaling-stroke" cx="722" cy="274" rx="8.5" ry="9.8" fill="#f09070"/><ellipse vector-effect="non-scaling-stroke" cx="766" cy="293" rx="8.5" ry="9.8" fill="#e0806a"/><ellipse vector-effect="non-scaling-stroke" cx="740" cy="327" rx="8.5" ry="9.8" fill="#d07a7a"/><ellipse vector-effect="non-scaling-stroke" cx="806" cy="332" rx="8.5" ry="9.8" fill="#c06a6a"/><ellipse vector-effect="non-scaling-stroke" cx="943" cy="323" rx="8.5" ry="9.8" fill="#6a1a1a"/><ellipse vector-effect="non-scaling-stroke" cx="932" cy="287" rx="8.5" ry="9.8" fill="#c04050"/><ellipse vector-effect="non-scaling-stroke" cx="980" cy="290" rx="8.5" ry="9.8" fill="#b02a3a"/><ellipse vector-effect="non-scaling-stroke" cx="1027" cy="333" rx="8.5" ry="9.8" fill="#c02a4a"/><ellipse vector-effect="non-scaling-stroke" cx="1054" cy="247" rx="8.5" ry="9.8" fill="#e02a3a"/><ellipse vector-effect="non-scaling-stroke" cx="1155" cy="238" rx="8.5" ry="9.8" fill="#e01a2a"/><ellipse vector-effect="non-scaling-stroke" cx="1148" cy="250" rx="8.5" ry="9.8" fill="#c01a3a"/><ellipse vector-effect="non-scaling-stroke" cx="1136" cy="260" rx="8.5" ry="9.8" fill="#b01a3a"/><ellipse vector-effect="non-scaling-stroke" cx="1130" cy="269" rx="8.5" ry="9.8" fill="#c0103a"/><ellipse vector-effect="non-scaling-stroke" cx="528" cy="355" rx="8.5" ry="9.8" fill="#222"/><ellipse vector-effect="non-scaling-stroke" cx="536" cy="360" rx="8.5" ry="9.8" fill="#333"/><ellipse vector-effect="non-scaling-stroke" cx="533" cy="364" rx="8.5" ry="9.8" fill="#555"/>
</g>
</svg>
</body></html>
